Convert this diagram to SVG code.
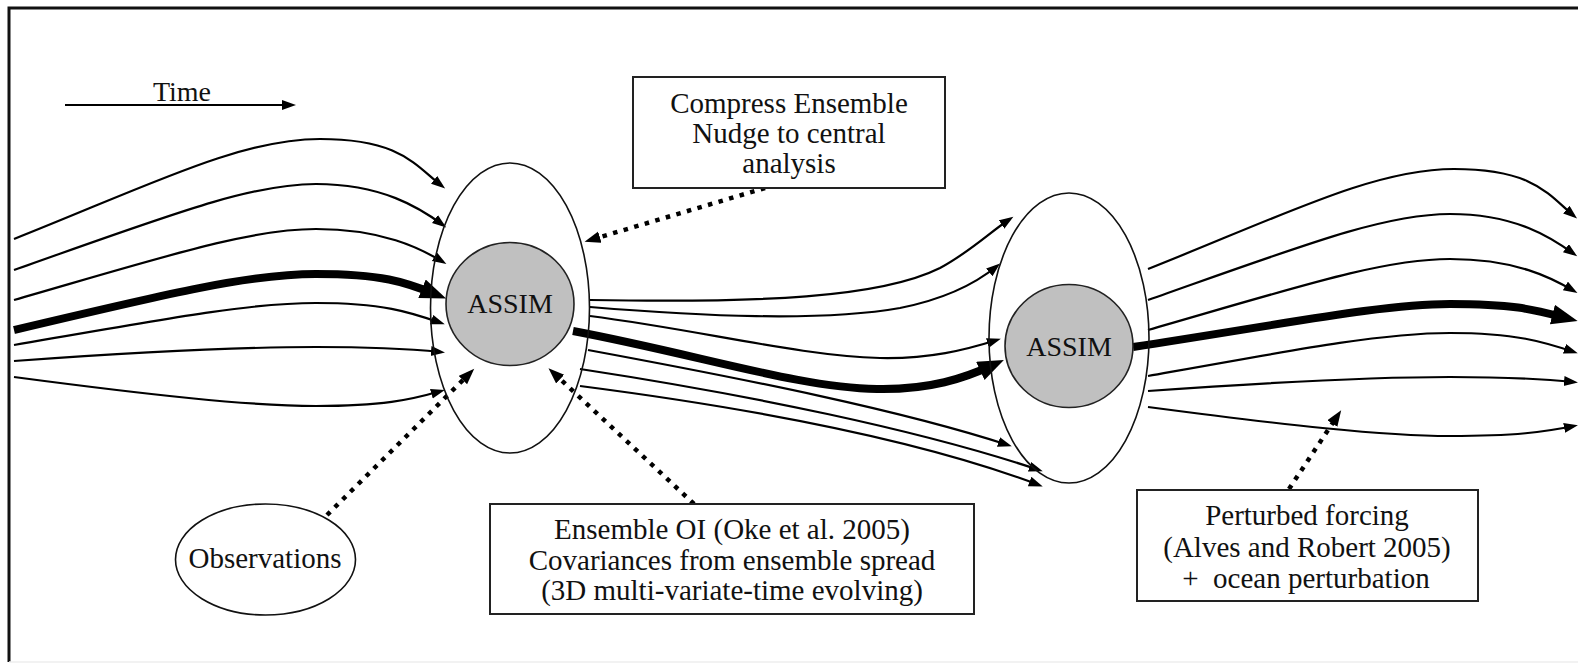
<svg xmlns="http://www.w3.org/2000/svg" width="1578" height="666" viewBox="0 0 1578 666">
<style>
text{font-family:"Liberation Serif","Times New Roman",serif;fill:#111;text-anchor:middle}
.t{font-size:29px}
.a{font-size:28px}
.ell{fill:none;stroke:#111;stroke-width:1.6}
.core{fill:#c0c0c0;stroke:#222;stroke-width:1.6}
.box{fill:#fff;stroke:#222;stroke-width:2}
.thin{fill:none;stroke:#000;stroke-width:2.2;marker-end:url(#ah)}
.thick{fill:none;stroke:#000;stroke-width:8;marker-end:url(#ahb)}
.dot{fill:none;stroke:#000;stroke-width:4.5;stroke-dasharray:4.5 6.5;marker-end:url(#ahd)}
</style>
<defs>
<marker id="ah" markerUnits="userSpaceOnUse" markerWidth="16" markerHeight="12" refX="10" refY="5" orient="auto"><path d="M0,0 L14,5 L0,10 Z" fill="#000"/></marker>
<marker id="ahb" markerUnits="userSpaceOnUse" markerWidth="28" markerHeight="22" refX="14" refY="10" orient="auto"><path d="M0,0 L26,10 L0,20 Z" fill="#000"/></marker>
<marker id="ahd" markerUnits="userSpaceOnUse" markerWidth="18" markerHeight="14" refX="3" refY="6" orient="auto"><path d="M0,0 L16,6 L0,12 Z" fill="#000"/></marker>
</defs>
<rect width="1578" height="666" fill="#fff"/>
<g id="frame" stroke="#111" stroke-width="3" fill="none">
<path d="M9,662 L9,8 L1578,8"/>
<path d="M9,662 L1578,662" stroke="#eee" stroke-width="1.5"/>
</g>
<g id="time">
<path d="M65,105 L292,105" stroke="#000" stroke-width="2.2" marker-end="url(#ah)"/>
<text class="a" x="182" y="101">Time</text>
</g>
<g id="connectors">
<path class="thin" d="M14,239 C150,185 240,139 320,139 S415,165 442,186"/>
<path class="thin" d="M14,270 C170,215 250,184 316,184 S420,208 443,225"/>
<path class="thin" d="M14,300 C170,255 250,229 316,229 S420,248 443,262"/>
<path class="thick" d="M14,330 C170,293 250,274 316,274 S405,282 435,294"/>
<path class="thin" d="M14,345 C170,318 250,303 316,303 S410,312 441,323"/>
<path class="thin" d="M14,361 C170,350 250,347 316,347 S410,349 441,352"/>
<path class="thin" d="M14,377 C150,395 250,406 316,406 S410,400 441,391"/>
<path class="thin" d="M590,300 C760,303 880,298 940,268 C970,252 990,232 1010,219"/>
<path class="thin" d="M590,307 C700,316 820,322 900,308 C950,298 980,280 997,266"/>
<path class="thin" d="M590,316 C700,330 800,356 880,358 C930,359 965,350 997,340"/>
<path class="thick" d="M573,331 C700,355 800,388 877,389 C930,390 965,378 993,365"/>
<path class="thin" d="M588,350 C750,380 900,410 1008,445"/>
<path class="thin" d="M580,369 C750,395 920,430 1039,470"/>
<path class="thin" d="M580,386 C750,408 920,440 1039,485"/>
<path class="thin" d="M1148,269 C1284,215 1374,169 1454,169 S1549,195 1574,216"/>
<path class="thin" d="M1148,300 C1304,245 1384,214 1450,214 S1552,238 1574,254"/>
<path class="thin" d="M1148,330 C1304,285 1384,259 1450,259 S1552,278 1574,291"/>
<path class="thick" d="M1133,347 C1290,323 1384,304 1450,304 S1535,310 1566,318"/>
<path class="thin" d="M1148,376 C1304,348 1384,333 1450,333 S1544,342 1574,352"/>
<path class="thin" d="M1148,391 C1304,380 1384,377 1450,377 S1544,379 1574,382"/>
<path class="thin" d="M1148,407 C1284,425 1384,436 1450,436 S1544,432 1574,426"/>
<path class="dot" d="M765,188 L597,238"/>
<path class="dot" d="M327,515 L465,378"/>
<path class="dot" d="M694,504 L558,377"/>
<path class="dot" d="M1289,489 L1334,421"/>
</g>
<g id="assim1">
<ellipse class="ell" cx="510" cy="308" rx="79.5" ry="145"/>
<ellipse class="core" cx="510" cy="304" rx="64" ry="61.5"/>
<text class="a" x="510" y="313">ASSIM</text>
</g>
<g id="assim2">
<ellipse class="ell" cx="1069" cy="338" rx="80" ry="145"/>
<ellipse class="core" cx="1069" cy="346" rx="64" ry="61.5"/>
<text class="a" x="1069" y="356">ASSIM</text>
</g>
<g id="observations">
<ellipse class="ell" cx="265.5" cy="559.5" rx="90" ry="55.5"/>
<text class="t" x="265" y="568">Observations</text>
</g>
<g id="compress">
<rect class="box" x="633" y="77" width="312" height="111"/>
<text class="t" x="789" y="113">Compress Ensemble</text>
<text class="t" x="789" y="143">Nudge to central</text>
<text class="t" x="789" y="173">analysis</text>
</g>
<g id="ensembleoi">
<rect class="box" x="490" y="504" width="484" height="110"/>
<text class="t" x="732" y="539">Ensemble OI (Oke et al. 2005)</text>
<text class="t" x="732" y="570">Covariances from ensemble spread</text>
<text class="t" x="732" y="600">(3D multi-variate-time evolving)</text>
</g>
<g id="perturbed">
<rect class="box" x="1137" y="490" width="341" height="111"/>
<text class="t" x="1307" y="525">Perturbed forcing</text>
<text class="t" x="1307" y="557">(Alves and Robert 2005)</text>
<text class="t" x="1306" y="588" xml:space="preserve">+  ocean perturbation</text>
</g>
</svg>
